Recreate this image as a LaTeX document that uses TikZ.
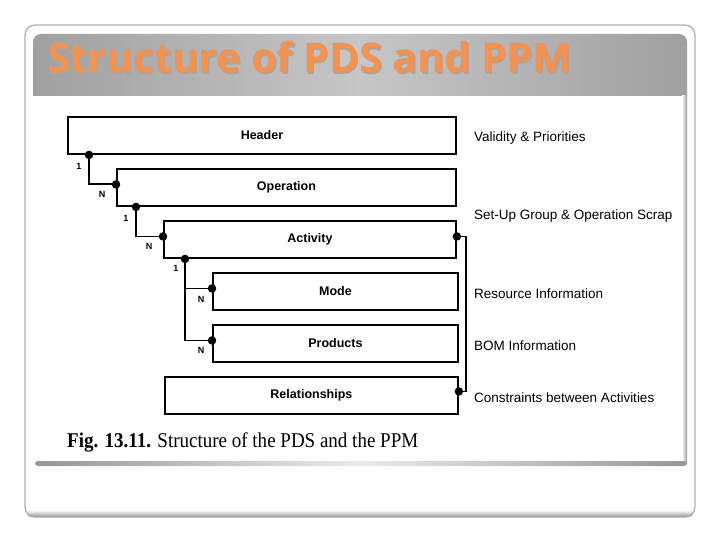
\documentclass[tikz,border=0pt]{standalone}
\usepackage{fontspec}
\setmainfont{Liberation Serif}
\setsansfont{Liberation Sans}
\newfontfamily\titlefont{Open Sans}
\usepackage{tikz}
\usetikzlibrary{calc}
\definecolor{slideborder}{RGB}{165,165,165}
\definecolor{bardark}{RGB}{160,160,160}
\definecolor{barlight}{RGB}{198,198,198}
\definecolor{titleorange}{RGB}{246,146,76}
\definecolor{shadowgray}{RGB}{150,150,150}
\tikzset{
  entity/.style={
    rectangle, draw=black, line width=1.9pt, anchor=north west,
    inner sep=0pt, font=\sffamily\bfseries\fontsize{12.5}{14}\selectfont
  },
  joint/.style={circle, fill=black, inner sep=0pt, minimum size=8.5pt},
  link/.style={draw=black, line width=1.9pt},
  card/.style={inner sep=0pt, font=\sffamily\bfseries\fontsize{9}{10}\selectfont},
  infolabel/.style={anchor=base west, inner sep=0pt, font=\sffamily\fontsize{13.5}{15}\selectfont}
}

\begin{document}
\begin{tikzpicture}[x=1pt, y=-1pt]
  \useasboundingbox (0,0) rectangle (720,540);

  % Slide frame
  \draw[slideborder, line width=0.8pt, rounded corners=10pt] (25,25) rectangle (695,517);
  \shade[top color=white, bottom color=shadowgray, rounded corners=4pt] (27,510) rectangle (693,517);
  \draw[slideborder, line width=0.8pt, rounded corners=10pt] (25,25) rectangle (695,517);

  % Title bar and content panel
  \shade[left color=bardark, right color=bardark, middle color=barlight, rounded corners=8pt] (33,34) rectangle (687,104);
  \fill[white] (33,96) rectangle (682,461);
  \shade[left color=white, right color=shadowgray] (682,96) rectangle (687,462);
  \shade[left color=shadowgray, right color=shadowgray, middle color=black!8, rounded corners=3pt] (35,461) rectangle (687,466);

  \node[anchor=base west, inner sep=0pt, text=black!35, font=\titlefont\bfseries\fontsize{41}{45}\selectfont] at (48.5,74.5) {Structure of PDS and PPM};
  \node[anchor=base west, inner sep=0pt, text=titleorange, font=\titlefont\bfseries\fontsize{41}{45}\selectfont] (title) at (47,73) {Structure of PDS and PPM};

  % Entity boxes
  \node[entity, minimum width=388pt, minimum height=37pt] (header) at (67,116) {Header};
  \node[entity, minimum width=339pt, minimum height=37pt] (operation) at (116,168) {Operation};
  \node[entity, minimum width=292pt, minimum height=37pt] (activity) at (163,220) {Activity};
  \node[entity, minimum width=245pt, minimum height=37pt] (mode) at (212,272) {Mode};
  \node[entity, minimum width=245pt, minimum height=37pt] (products) at (212,324) {Products};
  \node[entity, minimum width=293pt, minimum height=37pt] (relationships) at (164,376) {Relationships};

  % Header 1:N Operation
  \node[joint] (hdr-out) at ($(header.south west)+(22,0)$) {};
  \node[joint] (op-in) at ($(operation.west)+(0,-3)$) {};
  \draw[link] (hdr-out) |- (op-in);
  \node[card] at ($(hdr-out)+(-10,12)$) {1};
  \node[card] at ($(op-in)+(-14,10)$) {N};

  % Operation 1:N Activity
  \node[joint] (op-out) at ($(operation.south west)+(20,0)$) {};
  \node[joint] (act-in) at ($(activity.west)+(0,-3)$) {};
  \draw[link] (op-out) |- (act-in);
  \node[card] at ($(op-out)+(-10,12)$) {1};
  \node[card] at ($(act-in)+(-14,10)$) {N};

  % Activity 1:N Mode, Products
  \node[joint] (act-out) at ($(activity.south west)+(22,0)$) {};
  \node[joint] (mode-in) at ($(mode.west)+(0,-3)$) {};
  \node[joint] (prod-in) at ($(products.west)+(0,-3)$) {};
  \draw[link] (act-out) |- (prod-in);
  \draw[link] (act-out |- mode-in) -- (mode-in);
  \node[card] at ($(act-out)+(-9,10)$) {1};
  \node[card] at ($(mode-in)+(-11,11)$) {N};
  \node[card] at ($(prod-in)+(-11,10)$) {N};

  % Activity -- Relationships
  \node[joint] (act-rel) at ($(activity.east)+(0,-3)$) {};
  \node[joint] (rel-act) at ($(relationships.east)+(0,-4)$) {};
  \coordinate (relbus) at ($(act-rel)+(9,0)$);
  \draw[link] (act-rel) -- (relbus) |- (rel-act);

  % Descriptions
  \node[infolabel] (validity) at (474,142) {Validity \& Priorities};
  \node[infolabel] (setup) at (474,219) {Set-Up Group \& Operation Scrap};
  \node[infolabel] (resource) at (474,298) {Resource Information};
  \node[infolabel] (bom) at (474,350) {BOM Information};
  \node[infolabel] (constraints) at (474,402) {Constraints between Activities};

  % Caption
  \node[anchor=base west, inner sep=0pt, font=\fontsize{21}{24}\selectfont] (caption) at (67,447)
    {\scalebox{0.905}[1]{\textbf{Fig. 13.11.} Structure of the PDS and the PPM}};
\end{tikzpicture}
\end{document}
